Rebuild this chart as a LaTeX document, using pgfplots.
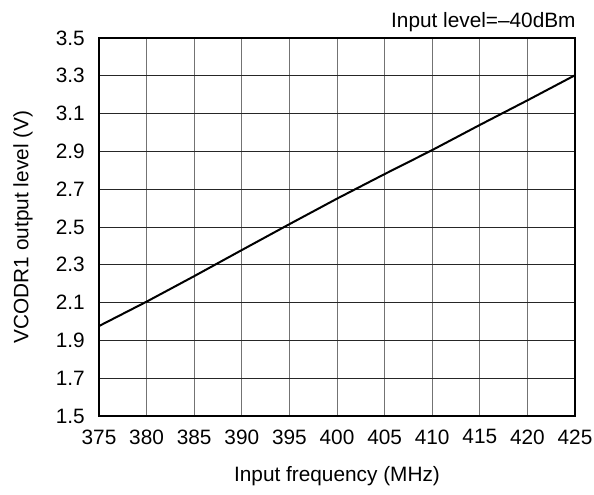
\documentclass[border=0pt]{standalone}
\usepackage{pgfplots}
\pgfplotsset{compat=1.18}
\usepackage{fontspec}
\setmainfont{Liberation Sans}

\begin{document}
\fontsize{10.4}{12}\selectfont
\begin{tikzpicture}
\begin{axis}[
    at={(0,0)}, anchor=south west,
    scale only axis, width=238pt, height=189pt,
    xmin=375, xmax=425, ymin=1.5, ymax=3.5,
    xtick={375,380,...,425},
    ytick={1.5,1.7,...,3.5},
    /pgf/number format/assume math mode=true,
    major tick length=0pt,
    xmajorgrids, ymajorgrids,
    x grid style={black!55, line width=0.5pt},
    y grid style={black!85, line width=0.5pt},
    axis line style={black, line width=1pt},
    yticklabel style={/pgf/number format/fixed, /pgf/number format/fixed zerofill,
        /pgf/number format/precision=1, xshift=-3.5pt},
    xticklabel style={yshift=-3.1pt},
    xlabel={Input frequency (MHz)},
    ylabel={VCODR1 output level (V)},
    xlabel style={at={(axis description cs:0.5,-0.174)}, anchor=base},
    ylabel style={at={(axis description cs:-0.1485,0.5)}, anchor=base},
    clip=false,
]
\addplot[black, line width=1pt] coordinates {
    (375, 1.976) (380, 2.105) (385, 2.240) (390, 2.378) (395, 2.515)
    (400, 2.650) (405, 2.780) (410, 2.907) (415, 3.040) (420, 3.170)
    (425, 3.303)
};
\node[anchor=base east, inner sep=0pt, xshift=0.5pt, yshift=5.35pt]
    at (rel axis cs:1,1) {Input level=--40dBm};
\end{axis}
\pgfresetboundingbox
\path (-49.5pt,-39pt) rectangle (247.5pt,208pt);
\end{tikzpicture}
\end{document}
